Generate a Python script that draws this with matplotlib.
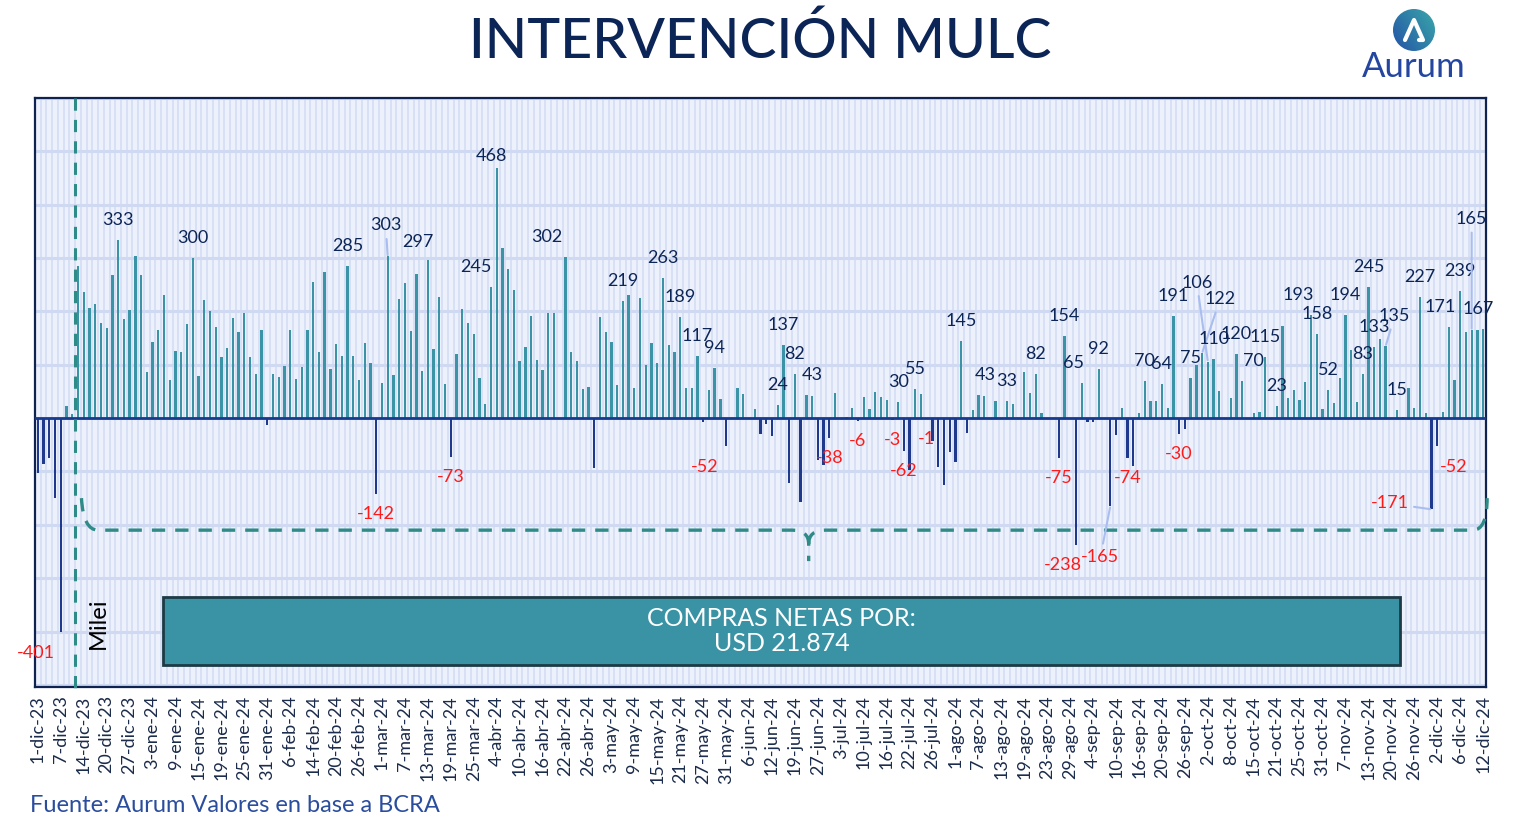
import matplotlib
matplotlib.use("Agg")
import matplotlib.pyplot as plt
import numpy as np
from matplotlib.patches import Rectangle, Circle, PathPatch
from matplotlib.path import Path

plt.rcParams['font.family'] = ['Lato', 'DejaVu Sans']

# etiquetas del eje x (una cada 4 ruedas)
fechas = ["1-dic-23", "7-dic-23", "14-dic-23", "20-dic-23", "27-dic-23",
          "3-ene-24", "9-ene-24", "15-ene-24", "19-ene-24", "25-ene-24", "31-ene-24",
          "6-feb-24", "14-feb-24", "20-feb-24", "26-feb-24",
          "1-mar-24", "7-mar-24", "13-mar-24", "19-mar-24", "25-mar-24",
          "4-abr-24", "10-abr-24", "16-abr-24", "22-abr-24", "26-abr-24",
          "3-may-24", "9-may-24", "15-may-24", "21-may-24", "27-may-24", "31-may-24",
          "6-jun-24", "12-jun-24", "19-jun-24", "27-jun-24",
          "3-jul-24", "10-jul-24", "16-jul-24", "22-jul-24", "26-jul-24",
          "1-ago-24", "7-ago-24", "13-ago-24", "19-ago-24", "23-ago-24", "29-ago-24",
          "4-sep-24", "10-sep-24", "16-sep-24", "20-sep-24", "26-sep-24",
          "2-oct-24", "8-oct-24", "15-oct-24", "21-oct-24", "25-oct-24", "31-oct-24",
          "7-nov-24", "13-nov-24", "20-nov-24", "26-nov-24",
          "2-dic-24", "6-dic-24", "12-dic-24"]

# compras netas diarias del BCRA en el MULC (USD millones)
compras = [
    -103, -86, -75, -150, -401, 22, 8, 286, 236, 207, 214, 179, 169, 269, 333, 186, 203, 304, 269, 87,
    142, 166, 231, 72, 126, 124, 177, 300, 79, 222, 201, 171, 115, 132, 188, 162, 197, 115, 83, 166,
    -12, 83, 77, 98, 166, 74, 96, 166, 256, 124, 274, 92, 139, 117, 285, 117, 72, 141, 104, -142,
    66, 303, 81, 224, 254, 164, 271, 89, 297, 130, 227, 64, -73, 121, 205, 179, 158, 76, 27, 245,
    468, 319, 280, 241, 107, 134, 192, 109, 91, 197, 197, 0, 302, 124, 107, 55, 59, -94, 190, 162,
    143, 62, 219, 231, 57, 226, 100, 141, 104, 263, 137, 124, 189, 57, 57, 117, -8, 53, 94, 36,
    -52, 0, 57, 46, 0, 17, -29, -11, -33, 24, 137, -122, 82, -158, 43, 42, -78, -88, -38, 47,
    0, 3, 19, -6, 40, 17, 49, 40, 34, -3, 30, -62, -97, 55, 46, -1, -42, -92, -126, -64,
    -83, 145, -27, 16, 43, 42, 0, 32, 0, 33, 27, 0, 87, 47, 82, 10, 0, 0, -75, 154,
    0, -238, 65, -8, -8, 92, 0, -165, -32, 19, -74, -90, 10, 70, 32, 32, 64, 19, 191, -30,
    -20, 75, 100, 122, 106, 110, 51, 0, 38, 120, 70, 0, 10, 12, 115, 0, 23, 173, 38, 53,
    34, 68, 193, 158, 17, 52, 29, 75, 194, 128, 30, 83, 245, 133, 149, 135, 0, 15, 3, 57,
    19, 227, 9, -171, -52, 12, 171, 72, 239, 162, 165, 166, 167,
]

# ruedas con etiqueta de dato
etiquetadas = [4, 14, 27, 54, 59, 61, 68, 72, 79, 80, 92, 102, 109, 112, 115, 118, 120,
               129, 130, 132, 134, 138, 143, 149, 150, 151, 153, 155, 161, 164, 169, 174,
               178, 179, 181, 182, 185, 187, 190, 193, 196, 198, 199, 201, 203, 204, 205,
               209, 210, 214, 216, 222, 223, 225, 228, 231, 232, 233, 235, 237, 241, 243,
               244, 246, 248, 250, 252]

total_texto = "COMPRAS NETAS POR:\nUSD 21.874"

# desplazamientos de etiquetas (px): (dx, distancia al extremo de la barra)
ajustes = {4: (-25, 21), 61: (-2, 31), 68: (-10, 18), 79: (-15, 20), 80: (-5, 12),
           92: (-19, 20), 120: (-21, 21), 134: (6, 20), 164: (7, 20), 181: (-13, 20),
           182: (-8, 20), 187: (-10, 51), 203: (18, 54), 204: (-11, 79), 210: (11, 20),
           222: (-13, 20), 235: (9, 30), 243: (-42, -6), 244: (16, 21), 246: (-9, 20),
           250: (0, 111), 252: (-5, 20)}
con_linea = [61, 187, 203, 204, 235, 243, 250]

C_POS = '#3a94a6'
C_NEG = '#1f3a8c'
NAVY = '#0c2557'

x = np.arange(len(compras))
v = np.array(compras)

fig = plt.figure(figsize=(15.14, 8.32), dpi=100)
ax = fig.add_axes([35 / 1514, 1 - 687 / 832, 1451 / 1514, 589 / 832])
ax.set_facecolor('#edf1fb')
ax.set_xlim(-0.5, len(compras) - 0.5)
ax.set_ylim(-504, 600)

# fondo tramado
for xi in np.arange(-0.5, len(compras), 1):
    ax.axvline(xi, color='#d6dff5', lw=1.3, zorder=0)
for yi in range(-500, 601, 100):
    ax.axhline(yi, color='#cfd9f2', lw=2.2, zorder=0.5)

colores = [C_POS if val >= 0 else C_NEG for val in compras]
ax.bar(x, v, width=0.4, color=colores, zorder=2)
ax.axhline(0, color='#173a8f', lw=2, zorder=3)

for i in etiquetadas:
    val = compras[i]
    dx, dy = ajustes.get(i, (0, 20))
    off = dy if val >= 0 else -dy
    kw = {}
    if i in con_linea:
        kw['arrowprops'] = dict(arrowstyle='-', color='#a9bdf0', lw=1.5, shrinkA=2, shrinkB=1)
    ax.annotate(f"{val}", xy=(i, val), xytext=(dx, off), textcoords='offset pixels',
                ha='center', va='center', fontsize=13,
                color=NAVY if val >= 0 else '#ff1a1a', zorder=5, **kw)

# línea Milei
ax.plot([6.4, 6.4], [600, -515], ls=(0, (4, 3)), color='#2e8b87', lw=2.2,
        clip_on=False, zorder=4)
ax.text(10.5, -384, "Milei", rotation=90, ha='center', va='center', fontsize=17,
        color='black')

# llave punteada
verts = [(7.6, -150), (7.9, -210), (10.5, -210), (131.5, -210), (134.4, -210),
         (134.4, -236), (134.4, -268),
         (134.4, -236), (134.4, -210), (137.3, -210), (250.2, -210), (252.7, -210),
         (252.7, -150)]
codes = [Path.MOVETO, Path.CURVE3, Path.CURVE3, Path.LINETO, Path.CURVE3, Path.CURVE3,
         Path.LINETO,
         Path.MOVETO, Path.CURVE3, Path.CURVE3, Path.LINETO, Path.CURVE3, Path.CURVE3]
ax.add_patch(PathPatch(Path(verts, codes), fill=False, ec='#2e8b87', lw=2.4,
                       ls=(0, (4, 3)), clip_on=False, zorder=4))

# recuadro total
ax.add_patch(Rectangle((21.9, -462.6), 215.6, 127.6, facecolor='#3a93a5',
                       edgecolor='#1d3a46', lw=2, zorder=6))
ax.text(129.7, -399, total_texto, ha='center', va='center', fontsize=18,
        color='white', linespacing=1.1, zorder=7)

ax.set_xticks(x[::4])
ax.set_xticklabels(fechas, rotation=90, fontsize=13, color='#1b2b4b')
ax.tick_params(axis='x', length=0, pad=6)
ax.set_yticks([])
for s in ax.spines.values():
    s.set_color('#0f2350')
    s.set_linewidth(1.6)

fig.text(760 / 1514, 1 - 42 / 832, "INTERVENCIÓN MULC", ha='center', va='center',
         fontsize=40, color=NAVY, fontweight='medium')
fig.text(30 / 1514, 1 - 805 / 832, "Fuente: Aurum Valores en base a BCRA",
         ha='left', va='center', fontsize=17, color='#2a4d9e')

# logo
lg = fig.add_axes([1340 / 1514, 1 - 88 / 832, 150 / 1514, 86 / 832])
lg.set_xlim(1340, 1490)
lg.set_ylim(88, 2)
lg.axis('off')
circ = Circle((1414, 30), 21, transform=lg.transData, facecolor='none', edgecolor='none')
lg.add_patch(circ)
grad = np.linspace(0, 1, 64)
gx, gy = np.meshgrid(grad, grad)
img = lg.imshow(gx * 0.6 + (1 - gy) * 0.4, cmap=matplotlib.colors.LinearSegmentedColormap.from_list(
    'aurum', ['#2453a6', '#3aa7a9']), extent=(1393, 1435, 51, 9), zorder=1)
img.set_clip_path(circ)
lg.plot([1405, 1414, 1423, 1419], [40, 20, 40, 40], color='white', lw=3,
        solid_capstyle='round', solid_joinstyle='round', zorder=2)
lg.text(1414, 67, "Aurum", ha='center', va='center', fontsize=25, color='#2446a0')

fig.savefig("out.png", dpi=100)
